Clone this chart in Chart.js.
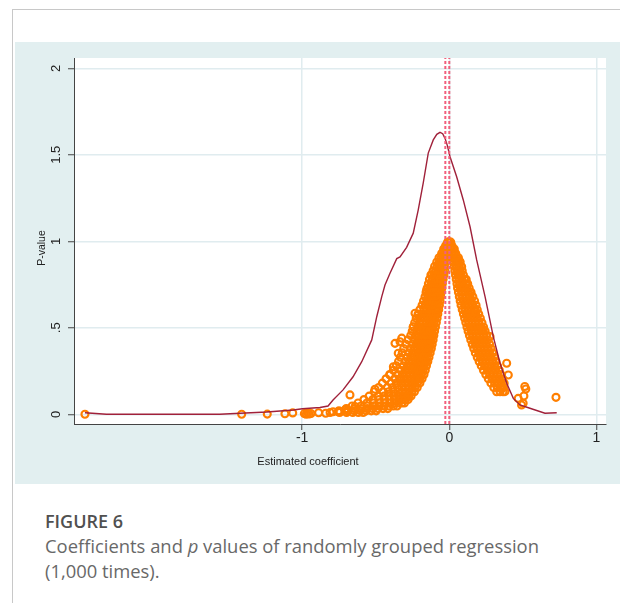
<!DOCTYPE html>
<html>
<head>
<meta charset="utf-8">
<script src="https://cdn.jsdelivr.net/npm/chart.js@4.4.0/dist/chart.umd.min.js"></script>
<style>
html,body{margin:0;padding:0;background:#ffffff;width:620px;height:603px;overflow:hidden;}
#card{position:absolute;left:12px;top:9px;width:640px;height:640px;border-left:1px solid #c8c8c8;border-top:1px solid #c8c8c8;box-sizing:border-box;}
#wrap{position:absolute;left:15px;top:42px;width:605px;height:442px;background:#e2eff0;}
#wrap canvas{display:block;}
.cap{position:absolute;left:45px;font-family:"Open Sans",sans-serif;white-space:nowrap;}
#fig{top:509px;font-size:18px;line-height:24px;font-weight:600;color:#505050;}
#txt{top:534px;font-size:18.4px;line-height:24.5px;font-weight:400;color:#686868;}
</style>
</head>
<body>
<div id="card"></div>
<div id="wrap"><canvas id="c" width="605" height="442"></canvas></div>
<div class="cap" id="fig">FIGURE 6</div>
<div class="cap" id="txt">Coefficients and <i>p</i> values of randomly grouped regression<br>(1,000 times).</div>
<script>
// ---- axis ticks ----
const xTickValues = [-1, 0, 1];
const xTickLabels = ['-1', '0', '1'];
const yTickValues = [0, 0.5, 1, 1.5, 2];
const yTickLabels = ['0', '.5', '1', '1.5', '2'];
const xTitle = 'Estimated coefficient';
const yTitle = 'P-value';

// ---- kernel density of coefficients (line) ----
const densityX = [-2.476, -2.33, -1.56, -1.42, -1.24, -1.06, -0.998, -0.879, -0.824, -0.79, -0.722, -0.654, -0.595, -0.527, -0.493, -0.459, -0.437, -0.403, -0.357, -0.335, -0.29, -0.245, -0.211, -0.177, -0.143, -0.109, -0.085, -0.063, -0.045, -0.029, -0.012, 0.005, 0.05, 0.095, 0.141, 0.186, 0.243, 0.299, 0.345, 0.39, 0.435, 0.48, 0.548, 0.65, 0.73];
const densityY = [0.009, 0.0, 0.0, 0.006, 0.013, 0.025, 0.032, 0.039, 0.048, 0.083, 0.141, 0.217, 0.304, 0.43, 0.564, 0.68, 0.747, 0.815, 0.9, 0.91, 0.965, 1.047, 1.182, 1.337, 1.51, 1.586, 1.618, 1.63, 1.622, 1.595, 1.55, 1.489, 1.373, 1.239, 1.084, 0.892, 0.68, 0.449, 0.295, 0.179, 0.092, 0.054, 0.035, 0.006, 0.009];

// ---- reference lines (dashed) ----
const refLineX = [-0.027, 0.0];

// ---- scatter: p-values vs coefficients, read row by row (p level -> coefficients) ----
const leftBandP = [0.995, 0.975, 0.955, 0.93, 0.905, 0.88, 0.855, 0.83, 0.805, 0.78, 0.755, 0.73, 0.705, 0.68, 0.655, 0.63, 0.605, 0.58, 0.555, 0.53, 0.505, 0.48, 0.455, 0.43, 0.405, 0.38, 0.355, 0.33, 0.305, 0.28, 0.255, 0.23, 0.205, 0.18, 0.155, 0.13, 0.105, 0.085, 0.065, 0.048, 0.033, 0.02, 0.01];
const leftBandX = [
  [-0.012, -0.004, 0.0],
  [-0.025, -0.016, -0.008],
  [-0.038, -0.027, -0.017, -0.008],
  [-0.052, -0.04, -0.028, -0.016],
  [-0.07, -0.055, -0.042, -0.03, -0.018],
  [-0.085, -0.068, -0.052, -0.037, -0.022],
  [-0.1, -0.083, -0.066, -0.05, -0.033],
  [-0.11, -0.093, -0.076, -0.06, -0.042, -0.03],
  [-0.125, -0.105, -0.09, -0.077, -0.065, -0.054, -0.044, -0.036],
  [-0.135, -0.115, -0.099, -0.086, -0.073, -0.061, -0.051, -0.042],
  [-0.142, -0.122, -0.106, -0.092, -0.079, -0.067, -0.056, -0.047],
  [-0.15, -0.13, -0.113, -0.098, -0.085, -0.072, -0.061, -0.05],
  [-0.158, -0.137, -0.12, -0.105, -0.091, -0.078, -0.066, -0.054],
  [-0.165, -0.145, -0.128, -0.112, -0.098, -0.084, -0.071, -0.058],
  [-0.175, -0.153, -0.135, -0.119, -0.104, -0.09, -0.076, -0.063],
  [-0.185, -0.162, -0.143, -0.126, -0.11, -0.095, -0.081, -0.067],
  [-0.2, -0.172, -0.151, -0.133, -0.117, -0.101, -0.086, -0.072],
  [-0.212, -0.182, -0.16, -0.141, -0.124, -0.108, -0.092, -0.078],
  [-0.225, -0.192, -0.169, -0.149, -0.131, -0.114, -0.098, -0.083],
  [-0.235, -0.202, -0.178, -0.157, -0.138, -0.12, -0.104, -0.088],
  [-0.245, -0.211, -0.187, -0.166, -0.146, -0.127, -0.11, -0.094],
  [-0.252, -0.22, -0.196, -0.175, -0.154, -0.135, -0.117, -0.1],
  [-0.262, -0.23, -0.205, -0.188, -0.172, -0.157, -0.143, -0.129, -0.116, -0.105],
  [-0.28, -0.24, -0.214, -0.196, -0.18, -0.165, -0.15, -0.136, -0.123, -0.11],
  [-0.295, -0.252, -0.225, -0.205, -0.188, -0.172, -0.157, -0.143, -0.129, -0.116],
  [-0.31, -0.264, -0.236, -0.215, -0.197, -0.18, -0.165, -0.15, -0.136, -0.122],
  [-0.32, -0.276, -0.248, -0.226, -0.207, -0.189, -0.173, -0.158, -0.144, -0.13],
  [-0.332, -0.288, -0.26, -0.237, -0.217, -0.199, -0.182, -0.167, -0.152, -0.138],
  [-0.345, -0.3, -0.272, -0.249, -0.228, -0.209, -0.192, -0.176, -0.161, -0.146],
  [-0.36, -0.313, -0.285, -0.261, -0.24, -0.22, -0.202, -0.186, -0.17, -0.155],
  [-0.38, -0.33, -0.3, -0.275, -0.252, -0.232, -0.213, -0.196, -0.179, -0.163],
  [-0.405, -0.35, -0.318, -0.29, -0.266, -0.245, -0.225, -0.207, -0.189, -0.172],
  [-0.43, -0.37, -0.337, -0.308, -0.282, -0.259, -0.238, -0.219, -0.201, -0.185],
  [-0.455, -0.395, -0.36, -0.328, -0.3, -0.276, -0.254, -0.234, -0.216, -0.2],
  [-0.48, -0.42, -0.385, -0.352, -0.322, -0.296, -0.273, -0.252, -0.234, -0.218],
  [-0.51, -0.45, -0.412, -0.378, -0.347, -0.32, -0.295, -0.273, -0.254, -0.237],
  [-0.545, -0.485, -0.445, -0.408, -0.375, -0.345, -0.318, -0.295, -0.276, -0.26],
  [-0.58, -0.52, -0.478, -0.44, -0.405, -0.373, -0.344, -0.318, -0.297, -0.28],
  [-0.62, -0.56, -0.515, -0.475, -0.438, -0.404, -0.373, -0.346, -0.323, -0.305],
  [-0.66, -0.6, -0.556, -0.515, -0.477, -0.442, -0.41, -0.38, -0.355],
  [-0.7, -0.645, -0.6, -0.558, -0.52, -0.484, -0.45, -0.418],
  [-0.75, -0.69, -0.645, -0.603, -0.565, -0.53, -0.497],
  [-0.81, -0.745, -0.698, -0.656, -0.618, -0.585]
];
const rightBandP = [0.995, 0.975, 0.955, 0.93, 0.905, 0.88, 0.855, 0.83, 0.805, 0.78, 0.755, 0.73, 0.705, 0.68, 0.655, 0.63, 0.605, 0.58, 0.555, 0.53, 0.505, 0.48, 0.455, 0.43, 0.405, 0.38, 0.355, 0.33, 0.305, 0.28, 0.255, 0.23, 0.205, 0.18, 0.155, 0.13];
const rightBandX = [
  [0.004, 0.01],
  [0.008, 0.018],
  [0.012, 0.024, 0.034],
  [0.018, 0.031, 0.044],
  [0.022, 0.036, 0.05, 0.062],
  [0.028, 0.043, 0.058, 0.072],
  [0.033, 0.049, 0.065, 0.08],
  [0.038, 0.055, 0.072, 0.088],
  [0.042, 0.06, 0.078, 0.096],
  [0.047, 0.066, 0.085, 0.104, 0.115],
  [0.052, 0.072, 0.092, 0.112, 0.125],
  [0.056, 0.077, 0.098, 0.12, 0.135],
  [0.062, 0.085, 0.108, 0.13, 0.148],
  [0.068, 0.092, 0.116, 0.14, 0.16],
  [0.074, 0.099, 0.124, 0.149, 0.172],
  [0.08, 0.106, 0.132, 0.158, 0.182],
  [0.088, 0.108, 0.128, 0.148, 0.168, 0.19],
  [0.096, 0.116, 0.137, 0.157, 0.178, 0.2],
  [0.104, 0.125, 0.146, 0.167, 0.189, 0.211],
  [0.112, 0.133, 0.155, 0.177, 0.2, 0.222],
  [0.12, 0.142, 0.164, 0.187, 0.21, 0.233],
  [0.128, 0.151, 0.174, 0.197, 0.221, 0.244],
  [0.137, 0.16, 0.184, 0.207, 0.231, 0.254],
  [0.146, 0.169, 0.193, 0.217, 0.241, 0.264],
  [0.156, 0.179, 0.203, 0.227, 0.251, 0.274],
  [0.166, 0.19, 0.214, 0.238, 0.262, 0.284],
  [0.177, 0.201, 0.225, 0.249, 0.273, 0.295],
  [0.19, 0.213, 0.237, 0.26, 0.284, 0.306],
  [0.203, 0.226, 0.249, 0.272, 0.295, 0.317],
  [0.217, 0.24, 0.262, 0.284, 0.307, 0.328],
  [0.232, 0.26, 0.287, 0.314, 0.34],
  [0.248, 0.275, 0.301, 0.327, 0.351],
  [0.265, 0.291, 0.316, 0.34, 0.362],
  [0.283, 0.308, 0.332, 0.354, 0.373],
  [0.302, 0.326, 0.348, 0.368],
  [0.322, 0.345, 0.365]
];
const outlierX = [-2.476, -1.411, -1.237, -1.117, -1.064, -0.985, -0.972, -0.962, -0.952, -0.94, -0.888, -0.84, -0.79, -0.755, -0.71, -0.69, -0.675, -0.64, -0.505, -0.403, -0.38, -0.369, -0.335, -0.347, -0.323, -0.245, -0.233, -0.211, -0.154, -0.12,
  0.073, 0.084, 0.145, 0.181, 0.231, 0.277, 0.39, 0.401, 0.356, 0.378, 0.468, 0.502, 0.513, 0.52, 0.507, 0.491, 0.725];
const outlierP = [0.0, 0.0, 0.001, 0.003, 0.008, 0.004, 0.0, 0.007, 0.002, 0.005, 0.009, 0.006, 0.015, 0.014, 0.024, 0.022, 0.112, 0.045, 0.145, 0.227, 0.275, 0.41, 0.419, 0.353, 0.44, 0.506, 0.584, 0.574, 0.719, 0.806,
  0.882, 0.853, 0.70, 0.593, 0.49, 0.449, 0.295, 0.227, 0.15, 0.131, 0.092, 0.064, 0.161, 0.146, 0.106, 0.054, 0.098];

// ---- axis ranges ----
const xMin = -2.5504, xMax = 1.0649;
const yMin = -0.0561, yMax = 2.0595;

// ---- build datasets ----
const scatterPts = [];
leftBandP.forEach((p, i) => leftBandX[i].forEach(x => scatterPts.push({x: x, y: p})));
rightBandP.forEach((p, i) => rightBandX[i].forEach(x => scatterPts.push({x: x, y: p})));
outlierX.forEach((x, i) => scatterPts.push({x: x, y: outlierP[i]}));
const densityPts = densityX.map((x, i) => ({x: x, y: densityY[i]}));

const refSets = refLineX.map(v => ({
  type: 'line', data: [{x: v, y: yMin}, {x: v, y: yMax}],
  borderColor: '#f0607c', borderWidth: 2, borderDash: [3, 2], pointRadius: 0, fill: false, order: 1
}));

const plotBg = {
  id: 'plotBg',
  beforeDraw(c) {
    const {ctx, chartArea: a} = c;
    ctx.save();
    ctx.fillStyle = '#ffffff';
    ctx.fillRect(a.left, a.top, a.right - a.left, a.bottom - a.top);
    ctx.restore();
  }
};
// y tick labels (rotated, Stata style) placed with the y scale, plus axis titles
const axisText = {
  id: 'axisText',
  afterDraw(c) {
    const ctx = c.ctx;
    const ys = c.scales.y;
    ctx.save();
    ctx.fillStyle = '#222222';
    ctx.textAlign = 'center';
    ctx.textBaseline = 'middle';
    ctx.font = '13px "Liberation Sans", Arial, sans-serif';
    yTickValues.forEach((v, i) => {
      ctx.save();
      ctx.translate(41, ys.getPixelForValue(v));
      ctx.rotate(-Math.PI / 2);
      ctx.fillText(yTickLabels[i], 0, 0);
      ctx.restore();
    });
    ctx.textBaseline = 'alphabetic';
    ctx.font = '11px "Liberation Sans", Arial, sans-serif';
    ctx.fillText(xTitle, 293, 423);
    ctx.translate(30, 206);
    ctx.rotate(-Math.PI / 2);
    ctx.font = '10.5px "Liberation Sans", Arial, sans-serif';
    ctx.fillText(yTitle, 0, 0);
    ctx.restore();
  }
};

new Chart(document.getElementById('c'), {
  data: {
    datasets: [
      {type: 'scatter', data: scatterPts, pointStyle: 'circle', pointRadius: 3.5, pointBorderWidth: 2.1,
       borderColor: '#ff7f00', backgroundColor: 'rgba(255,255,255,0)', pointBackgroundColor: 'rgba(255,255,255,0)', order: 3},
      {type: 'line', data: densityPts, borderColor: '#a0213a', borderWidth: 1.4, pointRadius: 0, fill: false, tension: 0, order: 2},
      ...refSets
    ]
  },
  options: {
    responsive: false,
    animation: false,
    devicePixelRatio: 1,
    layout: {padding: {top: 16, right: 14, left: 0, bottom: 0}},
    plugins: {legend: {display: false}, tooltip: {enabled: false}},
    scales: {
      x: {
        type: 'linear', min: xMin, max: xMax,
        afterBuildTicks: s => { s.ticks = xTickValues.map(v => ({value: v})); },
        afterFit: s => { s.height = 60; },
        ticks: {
          autoSkip: false, maxRotation: 0, minRotation: 0, padding: 0, color: '#222222',
          font: {family: '"Liberation Sans", Arial, sans-serif', size: 14},
          callback: v => xTickLabels[xTickValues.indexOf(v)]
        },
        grid: {color: '#e0ecef', lineWidth: 1.5, tickLength: 6, tickColor: '#444444', tickWidth: 1},
        border: {display: true, color: '#444444', width: 1}
      },
      y: {
        type: 'linear', min: yMin, max: yMax,
        afterBuildTicks: s => { s.ticks = yTickValues.map(v => ({value: v})); },
        afterFit: s => { s.width = 59; },
        ticks: {display: false},
        grid: {color: '#e0ecef', lineWidth: 1.5, tickLength: 6, tickColor: '#444444', tickWidth: 1},
        border: {display: true, color: '#444444', width: 1}
      }
    }
  },
  plugins: [plotBg, axisText]
});
</script>
</body>
</html>
